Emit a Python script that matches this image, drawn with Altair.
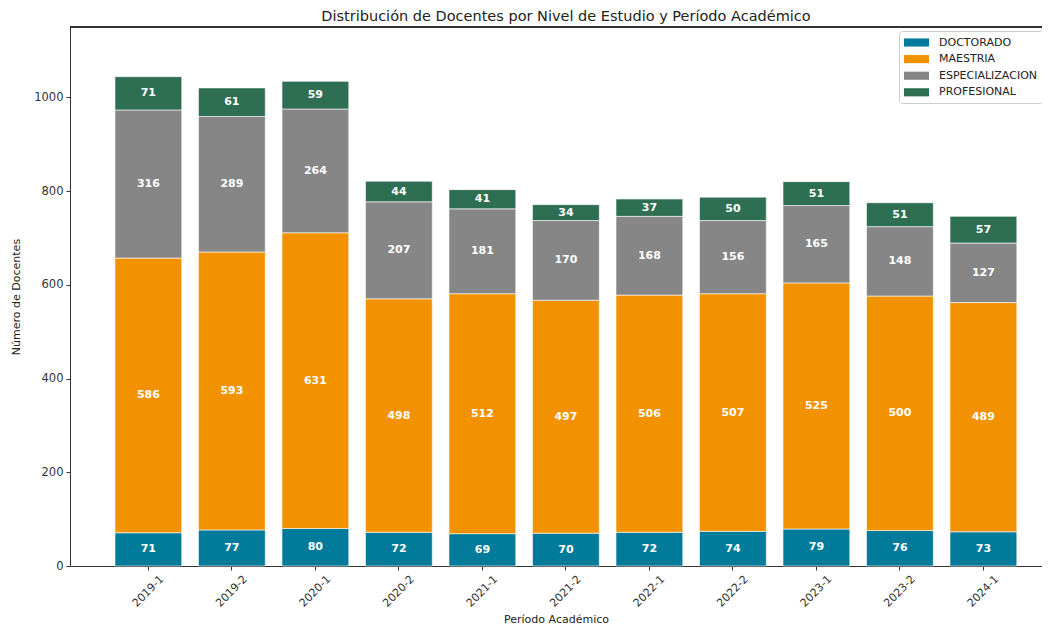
import altair as alt
import pandas as pd

periodos = ["2019-1", "2019-2", "2020-1", "2020-2", "2021-1", "2021-2",
            "2022-1", "2022-2", "2023-1", "2023-2", "2024-1"]
doctorado = [71, 77, 80, 72, 69, 70, 72, 74, 79, 76, 73]
maestria = [586, 593, 631, 498, 512, 497, 506, 507, 525, 500, 489]
especializacion = [316, 289, 264, 207, 181, 170, 168, 156, 165, 148, 127]
profesional = [71, 61, 59, 44, 41, 34, 37, 50, 51, 51, 57]

niveles = ["DOCTORADO", "MAESTRIA", "ESPECIALIZACION", "PROFESIONAL"]
colores = ["#027B9B", "#F29200", "#868686", "#2E6E52"]
series = [doctorado, maestria, especializacion, profesional]

rows = []
for orden, (nivel, vals) in enumerate(zip(niveles, series)):
    for p, v in zip(periodos, vals):
        rows.append({"periodo": p, "nivel": nivel, "valor": v, "orden": orden})
df = pd.DataFrame(rows)

W, H = 972, 539
FONT = "DejaVu Sans"

xscale = alt.Scale(domain=periodos, paddingInner=0.2, paddingOuter=0.42, align=0.641)
yscale = alt.Scale(domain=[0, 1150], nice=False)

base = alt.Chart(df).transform_stack(
    stack="valor", groupby=["periodo"], sort=[alt.SortField("orden", order="ascending")],
    as_=["y0", "y1"]
).transform_calculate(mid="(datum.y0 + datum.y1) / 2")

bars = base.mark_bar(stroke="white", strokeWidth=0.6).encode(
    x=alt.X("periodo:N", scale=xscale, sort=periodos,
            axis=alt.Axis(title="Período Académico", labelAngle=-45, labelAlign="center",
                          labelBaseline="middle", labelPadding=21, tickSize=4,
                          labelFontSize=11, labelColor="#333", tickColor="#333",
                          domainColor="#333", titleFontSize=11, titleFontWeight="normal",
                          titleColor="#222", titleY=53, titleBaseline="middle")),
    y=alt.Y("y0:Q", scale=yscale,
            axis=alt.Axis(title="Número de Docentes", values=[0, 200, 400, 600, 800, 1000],
                          format="d",
                          grid=False, tickSize=4, labelFontSize=11.5, labelColor="#333",
                          tickColor="#333", domainColor="#333", labelPadding=3,
                          titleFontSize=11, titleFontWeight="normal", titleColor="#222",
                          titleX=-54, titleY=H / 2, titleAngle=-90, titleAlign="center",
                          titleBaseline="middle")),
    y2="y1:Q",
    color=alt.Color("nivel:N", scale=alt.Scale(domain=niveles, range=colores),
                    legend=alt.Legend(title=None, orient="none", legendX=829, legendY=4,
                                      symbolType="M-2,-0.65H2V0.65H-2Z", symbolSize=156,
                                      symbolOffset=6, symbolStrokeWidth=0, symbolOpacity=1,
                                      labelFontSize=11, labelColor="#222", labelOffset=16,
                                      rowPadding=4.6, padding=5, strokeColor="#ccc",
                                      fillColor="white", cornerRadius=3)),
)

labels = base.mark_text(color="white", fontWeight="bold", fontSize=11, font=FONT,
                        baseline="middle", align="center").encode(
    x=alt.X("periodo:N", scale=xscale, sort=periodos),
    y=alt.Y("mid:Q", scale=yscale),
    text="valor:Q",
)

top = alt.Chart(df).mark_rule(color="#333", strokeWidth=1).encode(
    x=alt.value(0), x2=alt.value(W), y=alt.value(0)
)

chart = alt.layer(bars, labels, top).properties(
    width=W, height=H,
    title=alt.TitleParams("Distribución de Docentes por Nivel de Estudio y Período Académico",
                          fontSize=14.5, font=FONT, fontWeight="normal", color="#222",
                          anchor="middle", dx=10, offset=2),
    autosize=alt.AutoSizeParams(type="none"),
    padding={"left": 62, "top": 19, "right": 0, "bottom": 60},
).configure_view(stroke=None).configure(font=FONT)

chart.save("out.html", embed_options={"renderer": "svg", "actions": False})
